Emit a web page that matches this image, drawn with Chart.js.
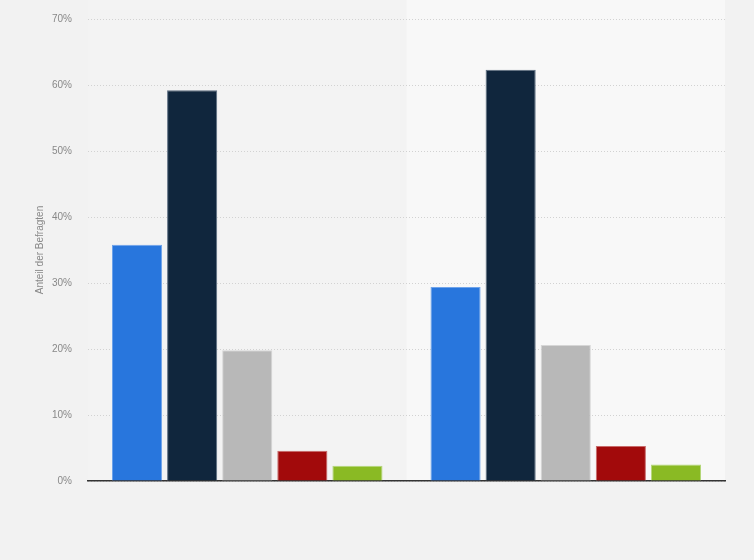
<!DOCTYPE html>
<html>
<head>
<meta charset="utf-8">
<script src="https://cdn.jsdelivr.net/npm/chart.js@4"></script>
<style>
  html, body { margin: 0; padding: 0; background: #f2f2f2; }
  #wrap { width: 754px; height: 560px; position: relative; }
</style>
</head>
<body>
<div id="wrap"><canvas id="chart"></canvas></div>
<script>
// --- Daten ---
const categories = ['Gruppe 1', 'Gruppe 2'];
const seriesNames = ['Antwort 1', 'Antwort 2', 'Antwort 3', 'Antwort 4', 'Antwort 5'];
const seriesValues = [
  [35.8, 29.4],
  [59.2, 62.3],
  [19.8, 20.6],
  [4.6, 5.3],
  [2.3, 2.5]
];
const seriesColors = ['#2876dd', '#10263d', '#b8b8b8', '#a20a0b', '#8aba24'];
const seriesBorders = ['#6ea3ea', '#5c6d80', '#d6d6d6', '#c86a6a', '#b4d77a'];
const yTicks = [0, 10, 20, 30, 40, 50, 60, 70];

// --- Hintergrund und Band für die zweite Kategorie ---
const bgPlugin = {
  id: 'bg',
  beforeDraw(chart) {
    const { ctx, chartArea, scales } = chart;
    ctx.save();
    ctx.fillStyle = '#f2f2f2';
    ctx.fillRect(0, 0, chart.width, chart.height);
    const x = scales.x;
    const mid = (x.getPixelForValue(0) + x.getPixelForValue(1)) / 2;
    ctx.fillStyle = '#f3f3f3';
    ctx.fillRect(chartArea.left, 0, mid - chartArea.left, chartArea.bottom);
    ctx.fillStyle = '#f8f8f8';
    ctx.fillRect(mid, 0, chartArea.right - mid, chartArea.bottom);
    ctx.restore();
  }
};

const chart = new Chart(document.getElementById('chart'), {
  type: 'bar',
  data: {
    labels: categories,
    datasets: seriesNames.map((name, i) => ({
      label: name,
      data: seriesValues[i],
      backgroundColor: seriesColors[i],
      borderColor: seriesBorders[i],
      borderWidth: 1,
      categoryPercentage: 0.865,
      barPercentage: 0.91
    }))
  },
  options: {
    responsive: true,
    maintainAspectRatio: false,
    animation: false,
    layout: { padding: { top: 19, right: 29, bottom: 79, left: 1 } },
    plugins: {
      legend: { display: false },
      tooltip: { enabled: true }
    },
    scales: {
      x: {
        grid: { display: false },
        ticks: { display: false },
        border: { display: true, color: '#333333', width: 1.5 },
        afterFit(scale) { scale.height = 0; }
      },
      y: {
        min: 0,
        max: 70,
        afterBuildTicks(scale) { scale.ticks = yTicks.map(v => ({ value: v })); },
        afterFit(scale) {
          scale.width = 87;
          scale.paddingTop = 0;
          scale.paddingBottom = 0;
        },
        grid: { color: '#d2d2d2', lineWidth: 1, drawTicks: false },
        border: { display: false, dash: [1, 2] },
        ticks: {
          padding: 16,
          color: '#888888',
          font: { family: 'Arial, "Liberation Sans", sans-serif', size: 10 },
          callback: v => v + '%'
        },
        title: {
          display: true,
          text: 'Anteil der Befragten',
          color: '#888888',
          font: { family: 'Arial, "Liberation Sans", sans-serif', size: 10 },
          padding: { top: 33, bottom: 0 }
        }
      }
    }
  },
  plugins: [bgPlugin]
});
</script>
</body>
</html>
